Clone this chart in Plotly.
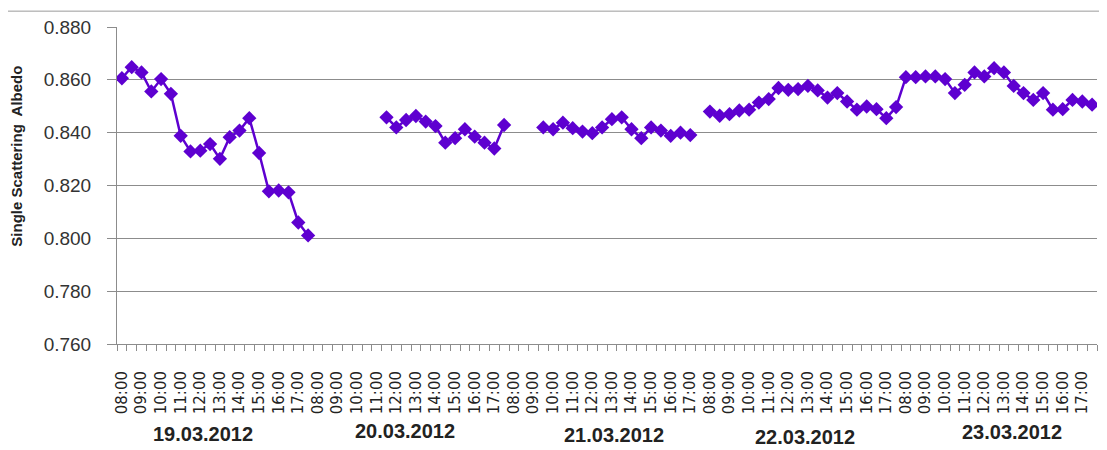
import plotly.graph_objects as go

# half-hourly slots per day, 08:00 - 17:30
slots = ['08:00', '08:30', '09:00', '09:30', '10:00', '10:30', '11:00', '11:30',
         '12:00', '12:30', '13:00', '13:30', '14:00', '14:30', '15:00', '15:30',
         '16:00', '16:30', '17:00', '17:30']
days = ['19.03.2012', '20.03.2012', '21.03.2012', '22.03.2012', '23.03.2012']

# single scattering albedo, one list per day (None = no measurement)
ssa_19 = [0.8606, 0.8648, 0.8628, 0.8556, 0.8603, 0.8547, 0.8388, 0.8329, 0.8332, 0.8357,
          0.8301, 0.8383, 0.8408, 0.8455, 0.8323, 0.8178, 0.8181, 0.8174, 0.8060, 0.8011]
ssa_20 = [None, None, None, None, None, None, None, 0.8458, 0.8420, 0.8448,
          0.8463, 0.8442, 0.8425, 0.8362, 0.8379, 0.8413, 0.8385, 0.8362, 0.8340, 0.8429]
ssa_21 = [None, None, None, 0.8420, 0.8413, 0.8438, 0.8417, 0.8404, 0.8398, 0.8420,
          0.8451, 0.8458, 0.8413, 0.8379, 0.8420, 0.8408, 0.8388, 0.8400, 0.8391, None]
ssa_22 = [0.8480, 0.8464, 0.8470, 0.8484, 0.8487, 0.8514, 0.8527, 0.8569, 0.8562, 0.8565,
          0.8577, 0.8560, 0.8533, 0.8550, 0.8518, 0.8487, 0.8499, 0.8489, 0.8455, 0.8497]
ssa_23 = [0.8610, 0.8610, 0.8613, 0.8613, 0.8603, 0.8550, 0.8581, 0.8628, 0.8613, 0.8644,
          0.8628, 0.8577, 0.8550, 0.8524, 0.8550, 0.8487, 0.8489, 0.8524, 0.8518, 0.8506]

values = ssa_19 + ssa_20 + ssa_21 + ssa_22 + ssa_23
x = list(range(len(values)))
labels = slots * len(days)

tickvals = [i for i, s in enumerate(labels) if s.endswith(':00')]
ticktext = [labels[i] for i in tickvals]

purple = '#5E00D0'
grey = '#8c8c8c'

fig = go.Figure()
fig.add_trace(go.Scatter(
    x=x, y=values,
    mode='lines+markers',
    line=dict(color=purple, width=2.5),
    marker=dict(symbol='diamond', size=11, color=purple),
    connectgaps=False,
    showlegend=False,
))

# page body has an 8px margin, so the figure is 8px smaller on each side
fig.update_layout(
    width=1099, height=442,
    margin=dict(l=109, r=10, t=19, b=106),
    paper_bgcolor='white', plot_bgcolor='white',
    font=dict(family='Liberation Sans, Arial, sans-serif', color='#222'),
)

fig.update_xaxes(
    range=[-0.5, len(values) - 0.5],
    tickmode='array', tickvals=tickvals, ticktext=ticktext,
    tickangle=-90, ticks='', ticklabelstandoff=20,
    tickfont=dict(family='DejaVu Sans', size=15, color='#222'),
    showgrid=False, zeroline=False,
    showline=True, linecolor=grey, linewidth=1,
    minor=dict(tickmode='array', tickvals=[i - 0.5 for i in range(len(values) + 1)],
               ticks='outside', ticklen=6, tickcolor=grey, tickwidth=1, showgrid=False),
)

fig.update_yaxes(
    range=[0.760, 0.880], dtick=0.02, tickformat='.3f',
    ticks='outside', ticklen=9, tickcolor=grey,
    ticklabelstandoff=12,
    tickfont=dict(size=19, color='#333'),
    showgrid=True, gridcolor=grey, gridwidth=1, zeroline=False,
    showline=True, linecolor=grey, linewidth=1,
)

# y-axis title placed like the original text box
fig.add_annotation(
    text='<b>Single Scattering  Albedo</b>', textangle=-90,
    xref='paper', yref='paper', x=-0.102, y=0.591,
    xanchor='center', yanchor='middle',
    showarrow=False, font=dict(size=15, color='#222'),
)

# date labels under each block of hours
date_x = [0.0878, 0.294, 0.507, 0.702, 0.913]
date_y = [-0.285, -0.276, -0.288, -0.294, -0.279]
for d, dx, dy in zip(days, date_x, date_y):
    fig.add_annotation(
        text='<b>' + d + '</b>', xref='paper', yref='paper', x=dx, y=dy,
        xanchor='center', yanchor='middle',
        showarrow=False, font=dict(size=20, color='#222'),
    )

# chart frame (only left and top edges fall inside the picture)
fig.add_shape(type='rect', xref='paper', yref='paper',
              x0=-0.1122, x1=1.05, y0=-0.5, y1=1.05,
              line=dict(color='#9a9a9a', width=1), layer='above')

fig.write_html('out.html')
